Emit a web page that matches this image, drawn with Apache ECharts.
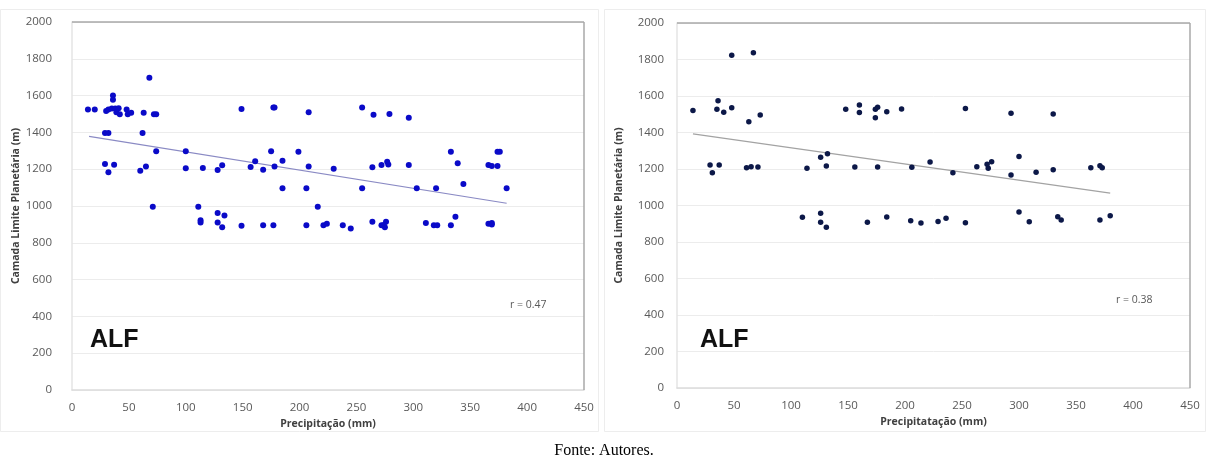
<!DOCTYPE html>
<html>
<head>
<meta charset="utf-8">
<script src="https://cdn.jsdelivr.net/npm/echarts@6/dist/echarts.min.js"></script>
<style>
html,body{margin:0;padding:0;background:#fff;}
#chart{width:1208px;height:466px;}
</style>
</head>
<body>
<div id="chart"></div>
<script>
// ---- Data ----
const xTicks = [0, 50, 100, 150, 200, 250, 300, 350, 400, 450];
const yTicks = [0, 200, 400, 600, 800, 1000, 1200, 1400, 1600, 1800, 2000];

const leftPoints = [
  [14,1525],[20,1525],[68,1697],[36,1600],[36,1578],[30,1516],[32,1525],[35,1530],[38,1530],[41,1531],
  [39,1509],[42,1498],[48,1525],[49,1498],[52,1507],[63,1507],[72,1498],[74,1498],[29,1397],[32,1397],
  [62,1397],[74,1297],[100,1297],[29,1228],[37,1224],[32,1183],[60,1192],[65,1214],[100,1205],[115,1207],
  [128,1196],[132,1221],[71,996],[111,996],[113,922],[113,911],[128,962],[134,949],[128,911],[132,884],
  [149,893],[168,895],[177,895],[149,1527],[177,1536],[178,1536],[175,1297],[161,1243],[157,1212],[168,1197],
  [178,1214],[185,1246],[185,1096],[208,1509],[255,1536],[265,1496],[279,1500],[296,1480],[199,1295],[208,1214],
  [230,1203],[264,1210],[272,1223],[277,1241],[278,1226],[296,1223],[333,1295],[339,1232],[366,1223],[369,1217],
  [374,1217],[374,1295],[376,1295],[206,1096],[255,1096],[303,1096],[320,1096],[344,1120],[382,1096],[216,996],
  [206,895],[221,895],[224,904],[238,895],[245,878],[264,915],[272,895],[275,884],[276,915],[274,897],
  [311,908],[318,895],[321,895],[333,895],[337,942],[366,904],[369,908],[369,900]
];
const leftTrend = [[15,1378],[382,1015]];
const leftR = 'r = 0.47';

const rightPoints = [
  [14,1520],[36,1574],[35,1527],[41,1511],[48,1536],[63,1459],[73,1496],[48,1823],[67,1837],[29,1222],
  [37,1222],[31,1180],[61,1207],[65,1213],[71,1211],[114,1204],[126,1264],[132,1284],[131,1216],[156,1211],
  [176,1211],[148,1527],[160,1551],[160,1509],[174,1527],[176,1538],[174,1481],[184,1514],[110,935],[126,957],
  [126,908],[131,881],[167,908],[184,937],[197,1529],[253,1532],[293,1505],[330,1501],[206,1209],[222,1238],
  [242,1180],[263,1213],[272,1226],[273,1204],[276,1240],[293,1167],[300,1268],[315,1182],[330,1196],[363,1207],
  [371,1218],[373,1207],[205,917],[214,904],[229,913],[236,930],[253,906],[300,964],[309,911],[334,939],
  [337,921],[371,921],[380,944]
];
const rightTrend = [[14,1392],[380,1068]];
const rightR = 'r = 0.38';

const panelLabel = 'ALF';
const yTitle = 'Camada Limite Planetária (m)';
const xTitleLeft = 'Precipitação (mm)';
const xTitleRight = 'Precipitatação (mm)';
const source = 'Fonte: Autores.';

// ---- Chart ----
const FONT = 'Open Sans';
const chart = echarts.init(document.getElementById('chart'), null, {renderer: 'canvas'});

const G = [
  {left: 72, top: 22, width: 512, height: 368},
  {left: 677, top: 23, width: 513, height: 365}
];

function xAxis(gi, name) {
  return {
    gridIndex: gi, type: 'value', min: xTicks[0], max: xTicks[xTicks.length-1], interval: 50,
    name: name, nameLocation: 'middle', nameGap: 26,
    nameTextStyle: {fontFamily: FONT, fontSize: 10.5, fontWeight: 'bold', color: '#404040'},
    axisLine: {show: true, lineStyle: {color: '#dcdcdc', width: 1.5}},
    axisTick: {show: false},
    axisLabel: {fontFamily: FONT, fontSize: 11.5, color: '#595959', margin: 12, formatter: v => String(v)},
    splitLine: {show: false}
  };
}
function yAxis(gi, margin, gap) {
  return {
    gridIndex: gi, type: 'value', min: yTicks[0], max: yTicks[yTicks.length-1], interval: 200,
    name: yTitle, nameLocation: 'middle', nameGap: gap, nameRotate: 90,
    nameTextStyle: {fontFamily: FONT, fontSize: 10.5, fontWeight: 'bold', color: '#404040'},
    axisLine: {show: true, lineStyle: {color: '#e4e4e4', width: 1.5}},
    axisTick: {show: false},
    axisLabel: {fontFamily: FONT, fontSize: 11.5, color: '#595959', margin: margin, formatter: v => String(v)},
    splitLine: {show: true, lineStyle: {color: '#ececec', width: 1}}
  };
}

function frameLines(g) {
  const x1 = g.left, x2 = g.left + g.width, y1 = g.top, y2 = g.top + g.height;
  return [
    {type: 'line', shape: {x1: x1, y1: y1, x2: x2, y2: y1}, style: {stroke: '#a8a8a8', lineWidth: 1.5}, z: 5},
    {type: 'line', shape: {x1: x2, y1: y1, x2: x2, y2: y2}, style: {stroke: '#a8a8a8', lineWidth: 1.5}, z: 5}
  ];
}

chart.setOption({
  animation: false,
  backgroundColor: '#ffffff',
  grid: G.map(g => Object.assign({show: false}, g)),
  xAxis: [xAxis(0, xTitleLeft), xAxis(1, xTitleRight)],
  yAxis: [yAxis(0, 20, 50), yAxis(1, 13, 52)],
  series: [
    {type: 'scatter', xAxisIndex: 0, yAxisIndex: 0, data: leftPoints, symbolSize: 6,
     itemStyle: {color: '#0a0ac8', opacity: 1}, z: 3},
    {type: 'line', xAxisIndex: 0, yAxisIndex: 0, data: leftTrend, symbol: 'none',
     lineStyle: {color: '#8a8ac4', width: 1.2}, z: 2},
    {type: 'scatter', xAxisIndex: 1, yAxisIndex: 1, data: rightPoints, symbolSize: 5.5,
     itemStyle: {color: '#0c1848', opacity: 1}, z: 3},
    {type: 'line', xAxisIndex: 1, yAxisIndex: 1, data: rightTrend, symbol: 'none',
     lineStyle: {color: '#a3a3a3', width: 1.2}, z: 2}
  ],
  graphic: [
    {type: 'rect', shape: {x: 0.5, y: 9.5, width: 598, height: 422}, style: {fill: 'none', stroke: '#ededed', lineWidth: 1}, z: -1},
    {type: 'rect', shape: {x: 604.5, y: 9.5, width: 601, height: 422}, style: {fill: 'none', stroke: '#ededed', lineWidth: 1}, z: -1},
    ...frameLines(G[0]),
    ...frameLines(G[1]),
    {type: 'text', left: 90, top: 328, style: {text: panelLabel, font: 'bold 25px "Liberation Sans", Arial', fill: '#111'}},
    {type: 'text', left: 700, top: 328, style: {text: panelLabel, font: 'bold 25px "Liberation Sans", Arial', fill: '#111'}},
    {type: 'text', left: 510, top: 300, style: {text: leftR, font: '10.5px "Open Sans"', fill: '#595959'}},
    {type: 'text', left: 1116, top: 295, style: {text: rightR, font: '10.5px "Open Sans"', fill: '#595959'}},
    {type: 'text', left: 'center', top: 443, style: {text: source, font: '16px "Liberation Serif", "Times New Roman", serif', fill: '#000'}}
  ]
});
</script>
</body>
</html>
